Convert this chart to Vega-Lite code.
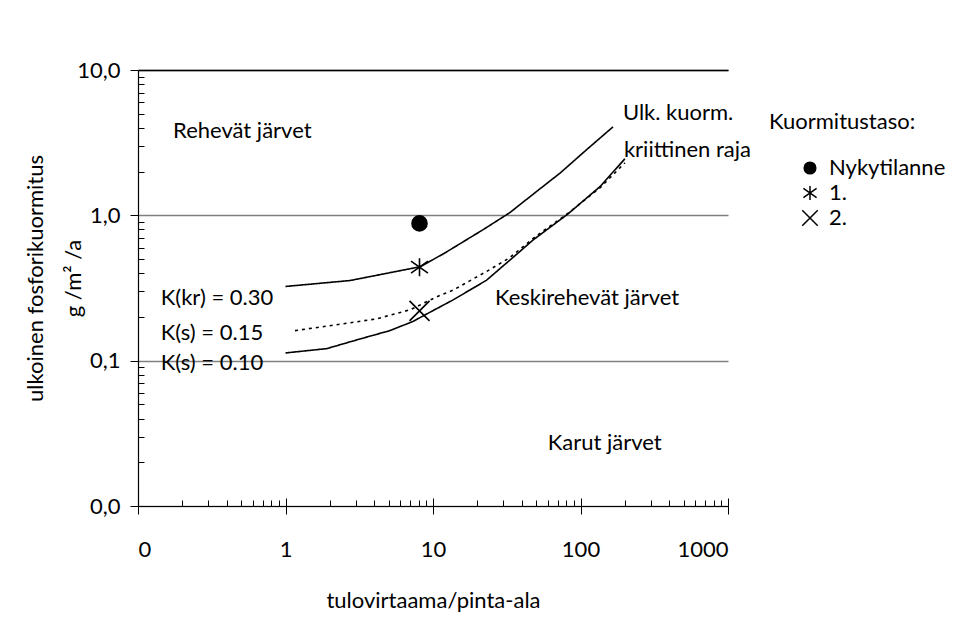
{
  "$schema": "https://vega.github.io/schema/vega-lite/v6.json",
  "width": 590,
  "height": 436,
  "autosize": {"type": "none"},
  "padding": {"left": 138, "top": 70, "right": 234, "bottom": 126},
  "background": "white",
  "config": {
    "view": {"stroke": null},
    "font": "Lato",
    "axis": {
      "labelFont": "Lato",
      "titleFont": "Lato",
      "labelColor": "black",
      "titleColor": "black",
      "titleFontWeight": "normal",
      "labelFontSize": 22,
      "titleFontSize": 22,
      "domainColor": "black",
      "tickColor": "black"
    }
  },
  "datasets": {
    "curves": [
      {"series": "K(kr) = 0.30", "x": 1.0, "y": 0.324},
      {"series": "K(kr) = 0.30", "x": 2.74, "y": 0.356},
      {"series": "K(kr) = 0.30", "x": 8.2, "y": 0.443},
      {"series": "K(kr) = 0.30", "x": 12, "y": 0.55},
      {"series": "K(kr) = 0.30", "x": 16, "y": 0.657},
      {"series": "K(kr) = 0.30", "x": 22, "y": 0.8},
      {"series": "K(kr) = 0.30", "x": 33, "y": 1.04},
      {"series": "K(kr) = 0.30", "x": 50, "y": 1.45},
      {"series": "K(kr) = 0.30", "x": 73, "y": 1.96},
      {"series": "K(kr) = 0.30", "x": 110, "y": 2.83},
      {"series": "K(kr) = 0.30", "x": 166, "y": 4.06},
      {"series": "K(s) = 0.15", "x": 1.16, "y": 0.161},
      {"series": "K(s) = 0.15", "x": 2, "y": 0.174},
      {"series": "K(s) = 0.15", "x": 4.15, "y": 0.194},
      {"series": "K(s) = 0.15", "x": 7, "y": 0.224},
      {"series": "K(s) = 0.15", "x": 10.6, "y": 0.275},
      {"series": "K(s) = 0.15", "x": 13.7, "y": 0.306},
      {"series": "K(s) = 0.15", "x": 23, "y": 0.41},
      {"series": "K(s) = 0.15", "x": 33, "y": 0.51},
      {"series": "K(s) = 0.15", "x": 50, "y": 0.72},
      {"series": "K(s) = 0.15", "x": 82, "y": 1.03},
      {"series": "K(s) = 0.15", "x": 136, "y": 1.55},
      {"series": "K(s) = 0.15", "x": 200, "y": 2.3},
      {"series": "K(s) = 0.10", "x": 1.0, "y": 0.113},
      {"series": "K(s) = 0.10", "x": 1.9, "y": 0.121},
      {"series": "K(s) = 0.10", "x": 3.2, "y": 0.141},
      {"series": "K(s) = 0.10", "x": 5.1, "y": 0.161},
      {"series": "K(s) = 0.10", "x": 7.3, "y": 0.186},
      {"series": "K(s) = 0.10", "x": 10, "y": 0.221},
      {"series": "K(s) = 0.10", "x": 13.7, "y": 0.262},
      {"series": "K(s) = 0.10", "x": 23, "y": 0.357},
      {"series": "K(s) = 0.10", "x": 35, "y": 0.515},
      {"series": "K(s) = 0.10", "x": 48, "y": 0.68},
      {"series": "K(s) = 0.10", "x": 82, "y": 1.02},
      {"series": "K(s) = 0.10", "x": 136, "y": 1.58},
      {"series": "K(s) = 0.10", "x": 200, "y": 2.45}
    ],
    "markers": [
      {"taso": "Nykytilanne", "x": 8.1, "y": 0.88},
      {"taso": "1.", "x": 8.1, "y": 0.44},
      {"taso": "2.", "x": 8.1, "y": 0.22}
    ],
    "labels": [
      {"label": "Rehevät järvet", "x": 0.173, "y": 3.81},
      {"label": "Ulk. kuorm.", "x": 194, "y": 5.06},
      {"label": "kriittinen raja", "x": 197, "y": 2.82},
      {"label": "K(kr) = 0.30", "x": 0.1426, "y": 0.271},
      {"label": "K(s) = 0.15", "x": 0.1426, "y": 0.155},
      {"label": "K(s) = 0.10", "x": 0.1426, "y": 0.0964},
      {"label": "Keskirehevät järvet", "x": 26.3, "y": 0.271},
      {"label": "Karut järvet", "x": 60, "y": 0.0273}
    ]
  },
  "resolve": {"axis": {"x": "independent", "y": "independent"}},
  "layer": [
    {
      "data": {"name": "curves"},
      "mark": {"type": "line", "color": "black", "strokeWidth": 1.6},
      "encoding": {
        "x": {
          "field": "x", "type": "quantitative",
          "scale": {"type": "log", "domain": [0.1, 1000], "nice": false},
          "axis": {
            "orient": "bottom",
            "values": [0.1, 1, 10, 100, 1000],
            "labelExpr": "format(datum.value, '.0f')",
            "tickSize": 8,
            "labelPadding": 25,
            "title": "tulovirtaama/pinta-ala",
            "titlePadding": 30,
            "grid": false,
            "domainWidth": 1.2
          }
        },
        "y": {
          "field": "y", "type": "quantitative",
          "scale": {"type": "log", "domain": [0.01, 10], "nice": false},
          "axis": {
            "orient": "left",
            "values": [0.01, 0.1, 1, 10],
            "labelExpr": "replace(format(datum.value, '.1f'), '.', ',')",
            "tickSize": 8,
            "labelPadding": 10,
            "grid": true,
            "gridColor": "#808080",
            "gridWidth": 1.3,
            "domainWidth": 1.2,
            "title": ["ulkoinen fosforikuormitus", "g /m² /a"],
            "titleAngle": 270,
            "titleX": -103,
            "titleY": 208,
            "titleBaseline": "middle",
            "titleAlign": "center",
            "titleLineHeight": 38
          }
        },
        "detail": {"field": "series"},
        "strokeDash": {
          "field": "series", "type": "nominal",
          "scale": {"domain": ["K(kr) = 0.30", "K(s) = 0.15", "K(s) = 0.10"], "range": [[1, 0], [3, 4], [1, 0]]},
          "legend": null
        }
      }
    },
    {
      "data": {"name": "markers"},
      "mark": {"type": "point", "filled": true, "fill": "black", "stroke": "black", "strokeWidth": 1.6, "opacity": 1, "size": 400},
      "encoding": {
        "x": {
          "field": "x", "type": "quantitative",
          "scale": {"type": "log", "domain": [0.1, 1000], "nice": false},
          "axis": {
            "orient": "bottom",
            "values": [0.1,0.2,0.3,0.4,0.5,0.6,0.7,0.8,0.9,1,2,3,4,5,6,7,8,9,10,20,30,40,50,60,70,80,90,100,200,300,400,500,600,700,800,900,1000],
            "tickSize": {"condition": {"test": "abs(log(datum.value)/LN10 - round(log(datum.value)/LN10)) < 0.001", "value": -8}, "value": -6},
            "labels": false, "domain": false, "title": null, "grid": false
          }
        },
        "y": {
          "field": "y", "type": "quantitative",
          "scale": {"type": "log", "domain": [0.01, 10], "nice": false},
          "axis": {
            "orient": "left",
            "values": [0.02,0.03,0.04,0.05,0.06,0.07,0.08,0.09,0.2,0.3,0.4,0.5,0.6,0.7,0.8,0.9,2,3,4,5,6,7,8,9],
            "tickSize": -6,
            "labels": false, "domain": false, "title": null, "grid": false
          }
        },
        "shape": {
          "field": "taso", "type": "nominal",
          "scale": {
            "domain": ["Nykytilanne", "1.", "2."],
            "range": [
              "M0.75,0A0.75,0.75 0 1,1 -0.75,0A0.75,0.75 0 1,1 0.75,0Z",
              "M0,-0.9L0,0.9M-0.85,-0.6L0.85,0.6M-0.85,0.6L0.85,-0.6",
              "M-1,-1L1,1M-1,1L1,-1"
            ]
          },
          "legend": {
            "title": "Kuormitustaso:",
            "orient": "none",
            "legendX": 631,
            "legendY": 42,
            "padding": 0,
            "titleFont": "Lato",
            "labelFont": "Lato",
            "titleFontSize": 22,
            "labelFontSize": 22,
            "titleFontWeight": "normal",
            "titleColor": "black",
            "labelColor": "black",
            "titlePadding": 23,
            "symbolOffset": 30,
            "symbolSize": 240,
            "labelOffset": 8,
            "rowPadding": 3,
            "encode": {
              "symbols": {
                "update": {
                  "stroke": {"value": "black"},
                  "strokeWidth": {"value": 1.6},
                  "fill": {"value": "black"},
                  "opacity": {"value": 1}
                }
              }
            }
          }
        }
      }
    },
    {
      "data": {"name": "labels"},
      "mark": {"type": "text", "align": "left", "baseline": "middle", "fontSize": 22, "font": "Lato", "color": "black"},
      "encoding": {
        "x": {
          "field": "x", "type": "quantitative",
          "scale": {"type": "log", "domain": [0.1, 1000], "nice": false},
          "axis": {"orient": "top", "labels": false, "ticks": false, "title": null, "domain": true, "domainColor": "black", "domainWidth": 1.3, "grid": false}
        },
        "y": {
          "field": "y", "type": "quantitative",
          "scale": {"type": "log", "domain": [0.01, 10], "nice": false},
          "axis": null
        },
        "text": {"field": "label"}
      }
    }
  ]
}
